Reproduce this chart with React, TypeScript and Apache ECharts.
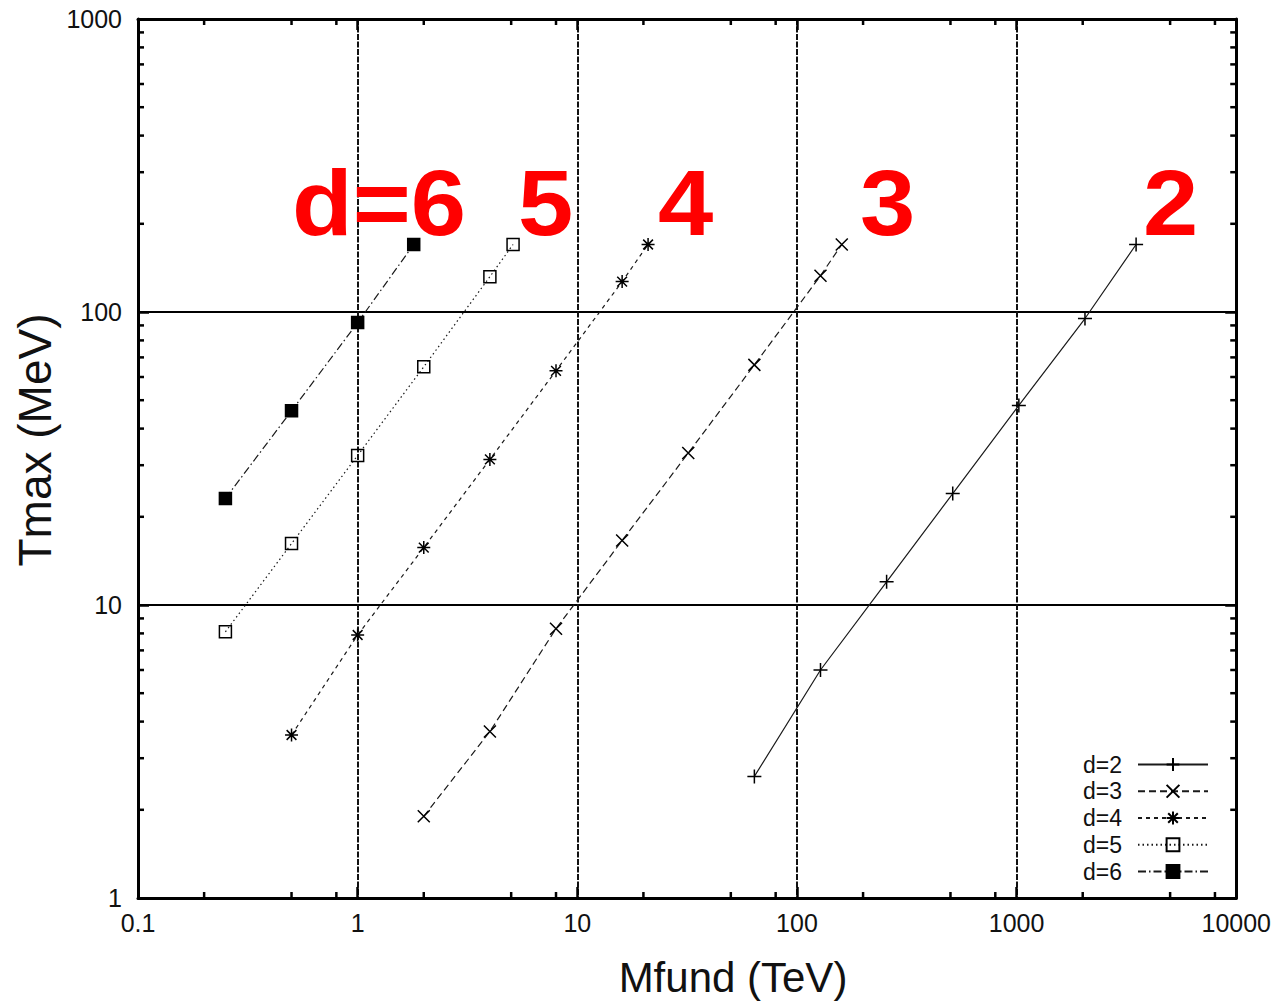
import React, { useEffect, useRef } from "react";
import * as echarts from "echarts";

// ---- data (Mfund in TeV, Tmax in MeV) ----
const d2M = [64, 128, 256, 512, 1024, 2048, 3500];
const d2T = [2.6, 6.0, 12, 24, 48, 95, 170];
const d3M = [2, 4, 8, 16, 32, 64, 128, 160];
const d3T = [1.9, 3.7, 8.3, 16.6, 33, 66, 133, 170];
const d4M = [0.5, 1, 2, 4, 8, 16, 21];
const d4T = [3.6, 7.9, 15.7, 31.4, 63, 127, 170];
const d5M = [0.25, 0.5, 1, 2, 4, 5.1];
const d5T = [8.1, 16.2, 32.4, 65, 132, 170];
const d6M = [0.25, 0.5, 1, 1.8];
const d6T = [23.1, 46, 92, 170];

const seriesNames = ["d=2", "d=3", "d=4", "d=5", "d=6"];
const bigLabels = ["d=6", "5", "4", "3", "2"];

// axis furniture
const X_MIN = 0.1;
const X_MAX = 10000;
const Y_MIN = 1;
const Y_MAX = 1000;
const xDecades = [0.1, 1, 10, 100, 1000];
const xMinorMult = [2, 5, 8];
const yDecades = [1, 10, 100];
const yMinorMult = [2, 3, 4, 5, 6, 7, 8, 9];

const FONT = '"Liberation Sans", Arial, sans-serif';

const zip = (a: number[], b: number[]) => a.map((v, i) => [v, b[i]]);

const plusPath = "path://M0,6L12,6M6,0L6,12";
const crossPath = "path://M0,0L12,12M0,12L12,0";
const starPath = "path://M6,0L6,12M0,6L12,6M1.5,1.5L10.5,10.5M1.5,10.5L10.5,1.5";

export default function App() {
  const ref = useRef<HTMLDivElement>(null);

  useEffect(() => {
    if (!ref.current) return;
    const chart = echarts.init(ref.current, undefined, { renderer: "svg" });

    const xMinor: number[][] = [];
    xDecades.forEach((d) => xMinorMult.forEach((m) => xMinor.push([d * m, Y_MIN])));
    const yMinor: number[][] = [];
    yDecades.forEach((d) => yMinorMult.forEach((m) => yMinor.push([X_MIN, d * m])));

    const lineCol = "#1a1a1a";
    const mkLine = (
      name: string,
      data: number[][],
      symbol: string,
      size: number,
      type: any,
      fill: string
    ) => ({
      name,
      type: "line",
      xAxisIndex: 0,
      yAxisIndex: 0,
      data,
      symbol,
      symbolSize: size,
      showAllSymbol: true,
      lineStyle: { color: lineCol, width: 1.2, type },
      itemStyle: { color: fill, borderColor: "#000", borderWidth: 1.5 },
      emphasis: { disabled: true },
      z: 5,
    });

    const fmt = (v: number) => parseFloat(Number(v).toPrecision(4)).toString();

    const option: any = {
      animation: false,
      backgroundColor: "#fff",
      grid: { left: 138, right: 36, top: 19, bottom: 108, containLabel: false },
      xAxis: [
        {
          type: "log",
          logBase: 10,
          min: X_MIN,
          max: X_MAX,
          position: "bottom",
          axisLine: { show: true, onZero: false, lineStyle: { color: "#000", width: 3 } },
          axisTick: { show: true, inside: true, length: 11, lineStyle: { color: "#000", width: 2.5 } },
          axisLabel: { show: true, margin: 12, fontSize: 25, color: "#111", fontFamily: FONT, formatter: fmt },
          splitLine: { show: true, lineStyle: { color: "#111", width: 2, type: [6, 1.5] } },
          minorTick: { show: false },
        },
        {
          type: "log",
          logBase: 10,
          min: X_MIN,
          max: X_MAX,
          position: "top",
          axisLine: { show: true, onZero: false, lineStyle: { color: "#000", width: 3 } },
          axisTick: { show: true, inside: true, length: 11, lineStyle: { color: "#000", width: 2.5 } },
          axisLabel: { show: false },
          splitLine: { show: false },
        },
      ],
      yAxis: [
        {
          type: "log",
          logBase: 10,
          min: Y_MIN,
          max: Y_MAX,
          position: "left",
          axisLine: { show: true, onZero: false, lineStyle: { color: "#000", width: 3 } },
          axisTick: { show: true, inside: true, length: 11, lineStyle: { color: "#000", width: 2.5 } },
          axisLabel: { show: true, margin: 16, fontSize: 25, color: "#111", fontFamily: FONT, formatter: fmt },
          splitLine: { show: true, lineStyle: { color: "#000", width: 2, type: "solid" } },
        },
        {
          type: "log",
          logBase: 10,
          min: Y_MIN,
          max: Y_MAX,
          position: "right",
          axisLine: { show: true, onZero: false, lineStyle: { color: "#000", width: 3 } },
          axisTick: { show: true, inside: true, length: 11, lineStyle: { color: "#000", width: 2.5 } },
          axisLabel: { show: false },
          splitLine: { show: false },
        },
      ],
      legend: {
        data: seriesNames,
        orient: "vertical",
        right: 60,
        top: 748,
        align: "right",
        itemWidth: 70,
        itemHeight: 16,
        itemGap: 3.75,
        selectedMode: false,
        textStyle: { fontSize: 23, color: "#111", fontFamily: FONT, padding: [0, 11, 0, 0] },
      },
      graphic: [
        ...bigLabels.map((t, i) => ({
          type: "text",
          x: [292, 518, 658, 860, 1143][i],
          y: 203,
          scaleX: 1.08,
          z: 100,
          style: {
            text: t,
            font: `bold 92px ${FONT}`,
            fill: "#ff0000",
            textAlign: "left",
            textVerticalAlign: "middle",
          },
        })),
        {
          type: "text",
          x: 733,
          y: 977,
          style: {
            text: "Mfund (TeV)",
            font: `42px ${FONT}`,
            fill: "#111",
            textAlign: "center",
            textVerticalAlign: "middle",
          },
        },
        {
          type: "text",
          x: 35,
          y: 440,
          rotation: Math.PI / 2,
          style: {
            text: "Tmax (MeV)",
            font: `46px ${FONT}`,
            fill: "#111",
            textAlign: "center",
            textVerticalAlign: "middle",
          },
        },
      ],
      series: [
        mkLine("d=2", zip(d2M, d2T), plusPath, 14, "solid", "#000"),
        mkLine("d=3", zip(d3M, d3T), crossPath, 12, [7, 4], "#000"),
        mkLine("d=4", zip(d4M, d4T), starPath, 13, [4, 4], "#000"),
        mkLine("d=5", zip(d5M, d5T), "rect", 12, [1.5, 3], "rgba(255,255,255,0)"),
        mkLine("d=6", zip(d6M, d6T), "rect", 12, [8, 3, 1.5, 3], "#000"),
        {
          name: "xminor",
          type: "custom",
          xAxisIndex: 0,
          yAxisIndex: 0,
          data: xMinor,
          silent: true,
          z: 3,
          renderItem: (params: any, api: any) => {
            const v = api.value(0);
            const pb = api.coord([v, Y_MIN]);
            const pt = api.coord([v, Y_MAX]);
            const st = { stroke: "#000", lineWidth: 2.5 };
            return {
              type: "group",
              children: [
                { type: "line", shape: { x1: pb[0], y1: pb[1], x2: pb[0], y2: pb[1] - 6 }, style: st },
                { type: "line", shape: { x1: pt[0], y1: pt[1], x2: pt[0], y2: pt[1] + 6 }, style: st },
              ],
            };
          },
        },
        {
          name: "yminor",
          type: "custom",
          xAxisIndex: 0,
          yAxisIndex: 0,
          data: yMinor,
          silent: true,
          z: 3,
          renderItem: (params: any, api: any) => {
            const v = api.value(1);
            const pl = api.coord([X_MIN, v]);
            const pr = api.coord([X_MAX, v]);
            const st = { stroke: "#000", lineWidth: 2.5 };
            return {
              type: "group",
              children: [
                { type: "line", shape: { x1: pl[0], y1: pl[1], x2: pl[0] + 6, y2: pl[1] }, style: st },
                { type: "line", shape: { x1: pr[0], y1: pr[1], x2: pr[0] - 6, y2: pr[1] }, style: st },
              ],
            };
          },
        },
      ],
    };

    chart.setOption(option);
    return () => chart.dispose();
  }, []);

  return (
    <div
      ref={ref}
      style={{ position: "absolute", left: 0, top: 0, width: 1274, height: 1006 }}
    />
  );
}
